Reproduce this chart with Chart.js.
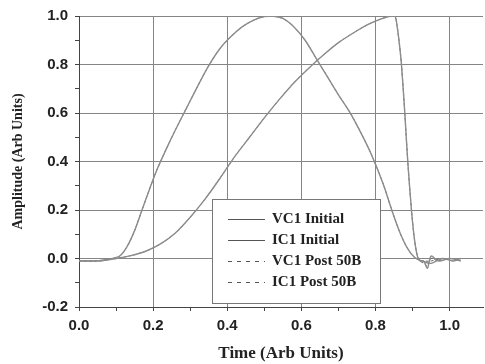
<!DOCTYPE html>
<html>
<head>
<meta charset="utf-8">
<script src="https://cdn.jsdelivr.net/npm/chart.js@4.4.1/dist/chart.umd.min.js"></script>
<style>
  html, body { margin: 0; padding: 0; background: #fff; }
</style>
</head>
<body>
<canvas id="chart" width="485" height="364"></canvas>
<script>
// values
const seriesLabels = ['VC1 Initial', 'IC1 Initial', 'VC1 Post 50B', 'IC1 Post 50B'];

const vc1Time    = [0.00, 0.05, 0.09, 0.11, 0.13, 0.15, 0.17, 0.19, 0.21, 0.235, 0.26, 0.29, 0.32, 0.35, 0.38, 0.41, 0.44, 0.47, 0.50, 0.52, 0.55, 0.58, 0.61, 0.64, 0.67, 0.70, 0.73, 0.76, 0.79, 0.82, 0.845, 0.865, 0.885, 0.905, 0.925, 0.95, 0.98, 1.01, 1.03];
const vc1Initial = [-0.01, -0.01, 0.00, 0.01, 0.05, 0.115, 0.20, 0.285, 0.365, 0.45, 0.53, 0.62, 0.71, 0.795, 0.865, 0.915, 0.955, 0.982, 0.998, 1.00, 0.99, 0.955, 0.90, 0.825, 0.75, 0.675, 0.605, 0.52, 0.425, 0.31, 0.195, 0.11, 0.045, 0.005, -0.01, -0.02, 0.00, -0.01, 0.00];
const vc1Post    = [-0.01, -0.01, 0.00, 0.01, 0.05, 0.115, 0.20, 0.285, 0.365, 0.45, 0.53, 0.62, 0.71, 0.795, 0.865, 0.915, 0.955, 0.982, 0.998, 1.00, 0.99, 0.955, 0.90, 0.825, 0.75, 0.675, 0.605, 0.52, 0.425, 0.31, 0.195, 0.11, 0.045, 0.005, -0.01, -0.01, 0.00, -0.01, 0.00];

const ic1Time    = [0.00, 0.05, 0.10, 0.14, 0.18, 0.22, 0.26, 0.30, 0.34, 0.38, 0.42, 0.46, 0.50, 0.54, 0.58, 0.62, 0.66, 0.70, 0.74, 0.78, 0.81, 0.835, 0.852, 0.858, 0.864, 0.87, 0.879, 0.887, 0.897, 0.905, 0.913, 0.92, 0.93, 0.94, 0.95, 0.97, 1.00, 1.03];
const ic1Initial = [-0.01, -0.01, 0.00, 0.012, 0.03, 0.06, 0.105, 0.17, 0.245, 0.33, 0.42, 0.50, 0.58, 0.655, 0.725, 0.785, 0.84, 0.89, 0.93, 0.965, 0.985, 0.998, 1.00, 0.96, 0.89, 0.80, 0.60, 0.40, 0.20, 0.08, 0.01, -0.01, -0.01, -0.04, 0.01, -0.01, 0.00, -0.01];
const ic1Post    = [-0.01, -0.01, 0.00, 0.012, 0.03, 0.06, 0.105, 0.17, 0.245, 0.33, 0.42, 0.50, 0.58, 0.655, 0.725, 0.785, 0.84, 0.89, 0.93, 0.965, 0.985, 0.998, 1.00, 0.96, 0.89, 0.80, 0.60, 0.40, 0.20, 0.08, 0.01, -0.01, -0.02, -0.03, 0.00, -0.01, 0.00, -0.01];

const toPoints = (xs, ys) => xs.map((x, i) => ({ x, y: ys[i] }));
const isMajor = v => Math.round(v * 10) % 2 === 0;
const tickLabel = v => isMajor(v) ? (Math.abs(v) < 1e-9 ? 0 : v).toFixed(1) : '';

const tickFont = { family: '"Liberation Sans", Arial, sans-serif', size: 15, weight: 'bold' };
const serif = '"Liberation Serif", "Times New Roman", serif';

// legend drawn as a boxed key inside the plot, like the original figure
const boxLegend = {
  id: 'boxLegend',
  afterDatasetsDraw(chart) {
    const ctx = chart.ctx;
    const bx = 212, by = 199, bw = 168, bh = 104;
    ctx.save();
    ctx.fillStyle = '#fff';
    ctx.fillRect(bx, by, bw, bh);
    ctx.strokeStyle = '#777';
    ctx.lineWidth = 1;
    ctx.strokeRect(bx + 0.5, by + 0.5, bw, bh);
    ctx.font = 'bold 15px ' + serif;
    ctx.textBaseline = 'middle';
    chart.data.datasets.forEach((ds, i) => {
      const ry = Math.round(by + 20 + i * 21) + 0.5;
      ctx.strokeStyle = '#555';
      ctx.lineWidth = 1;
      ctx.setLineDash(ds.borderDash && ds.borderDash.length ? [4, 5] : []);
      ctx.beginPath();
      ctx.moveTo(bx + 16, ry);
      ctx.lineTo(bx + 53, ry);
      ctx.stroke();
      ctx.setLineDash([]);
      ctx.fillStyle = '#222';
      ctx.fillText(ds.label, bx + 60, ry);
    });
    ctx.restore();
  }
};

const lineStyle = (dashed) => ({
  borderColor: dashed ? '#666' : '#8c8c8c',
  borderWidth: dashed ? 1 : 1.4,
  borderDash: dashed ? [3, 2] : [],
  pointRadius: 0,
  fill: false,
  tension: 0.3
});

new Chart(document.getElementById('chart'), {
  type: 'line',
  data: {
    datasets: [
      { label: seriesLabels[0], data: toPoints(vc1Time, vc1Initial), ...lineStyle(false) },
      { label: seriesLabels[1], data: toPoints(ic1Time, ic1Initial), ...lineStyle(false) },
      { label: seriesLabels[2], data: toPoints(vc1Time, vc1Post), ...lineStyle(true) },
      { label: seriesLabels[3], data: toPoints(ic1Time, ic1Post), ...lineStyle(true) }
    ]
  },
  options: {
    responsive: false,
    animation: false,
    layout: { padding: { top: 16, right: 2, left: 0, bottom: 0 } },
    plugins: { legend: { display: false }, tooltip: { enabled: false } },
    scales: {
      x: {
        type: 'linear',
        min: 0,
        max: 1.09,
        ticks: { stepSize: 0.1, includeBounds: false, autoSkip: false, maxRotation: 0, callback: tickLabel, font: tickFont, color: '#222', padding: 6 },
        grid: {
          color: c => isMajor(c.tick.value) ? '#858585' : 'rgba(0,0,0,0)',
          tickColor: '#444',
          tickLength: 4
        },
        border: { color: '#444' },
        title: { display: true, text: 'Time (Arb Units)', font: { family: serif, size: 17, weight: 'bold' }, color: '#222', padding: { top: 4, bottom: 0 } },
        afterFit: s => { s.height = 57; }
      },
      y: {
        min: -0.2,
        max: 1.0,
        ticks: { stepSize: 0.1, autoSkip: false, callback: tickLabel, font: tickFont, color: '#222', padding: 7 },
        grid: {
          color: c => isMajor(c.tick.value) ? '#858585' : 'rgba(0,0,0,0)',
          tickColor: '#444',
          tickLength: 4
        },
        border: { color: '#444' },
        title: { display: true, text: 'Amplitude (Arb Units)', font: { family: serif, size: 14, weight: 'bold' }, color: '#222', padding: { top: 10, bottom: 0 } },
        afterFit: s => { s.width = 79; }
      }
    }
  },
  plugins: [boxLegend]
});
</script>
</body>
</html>
